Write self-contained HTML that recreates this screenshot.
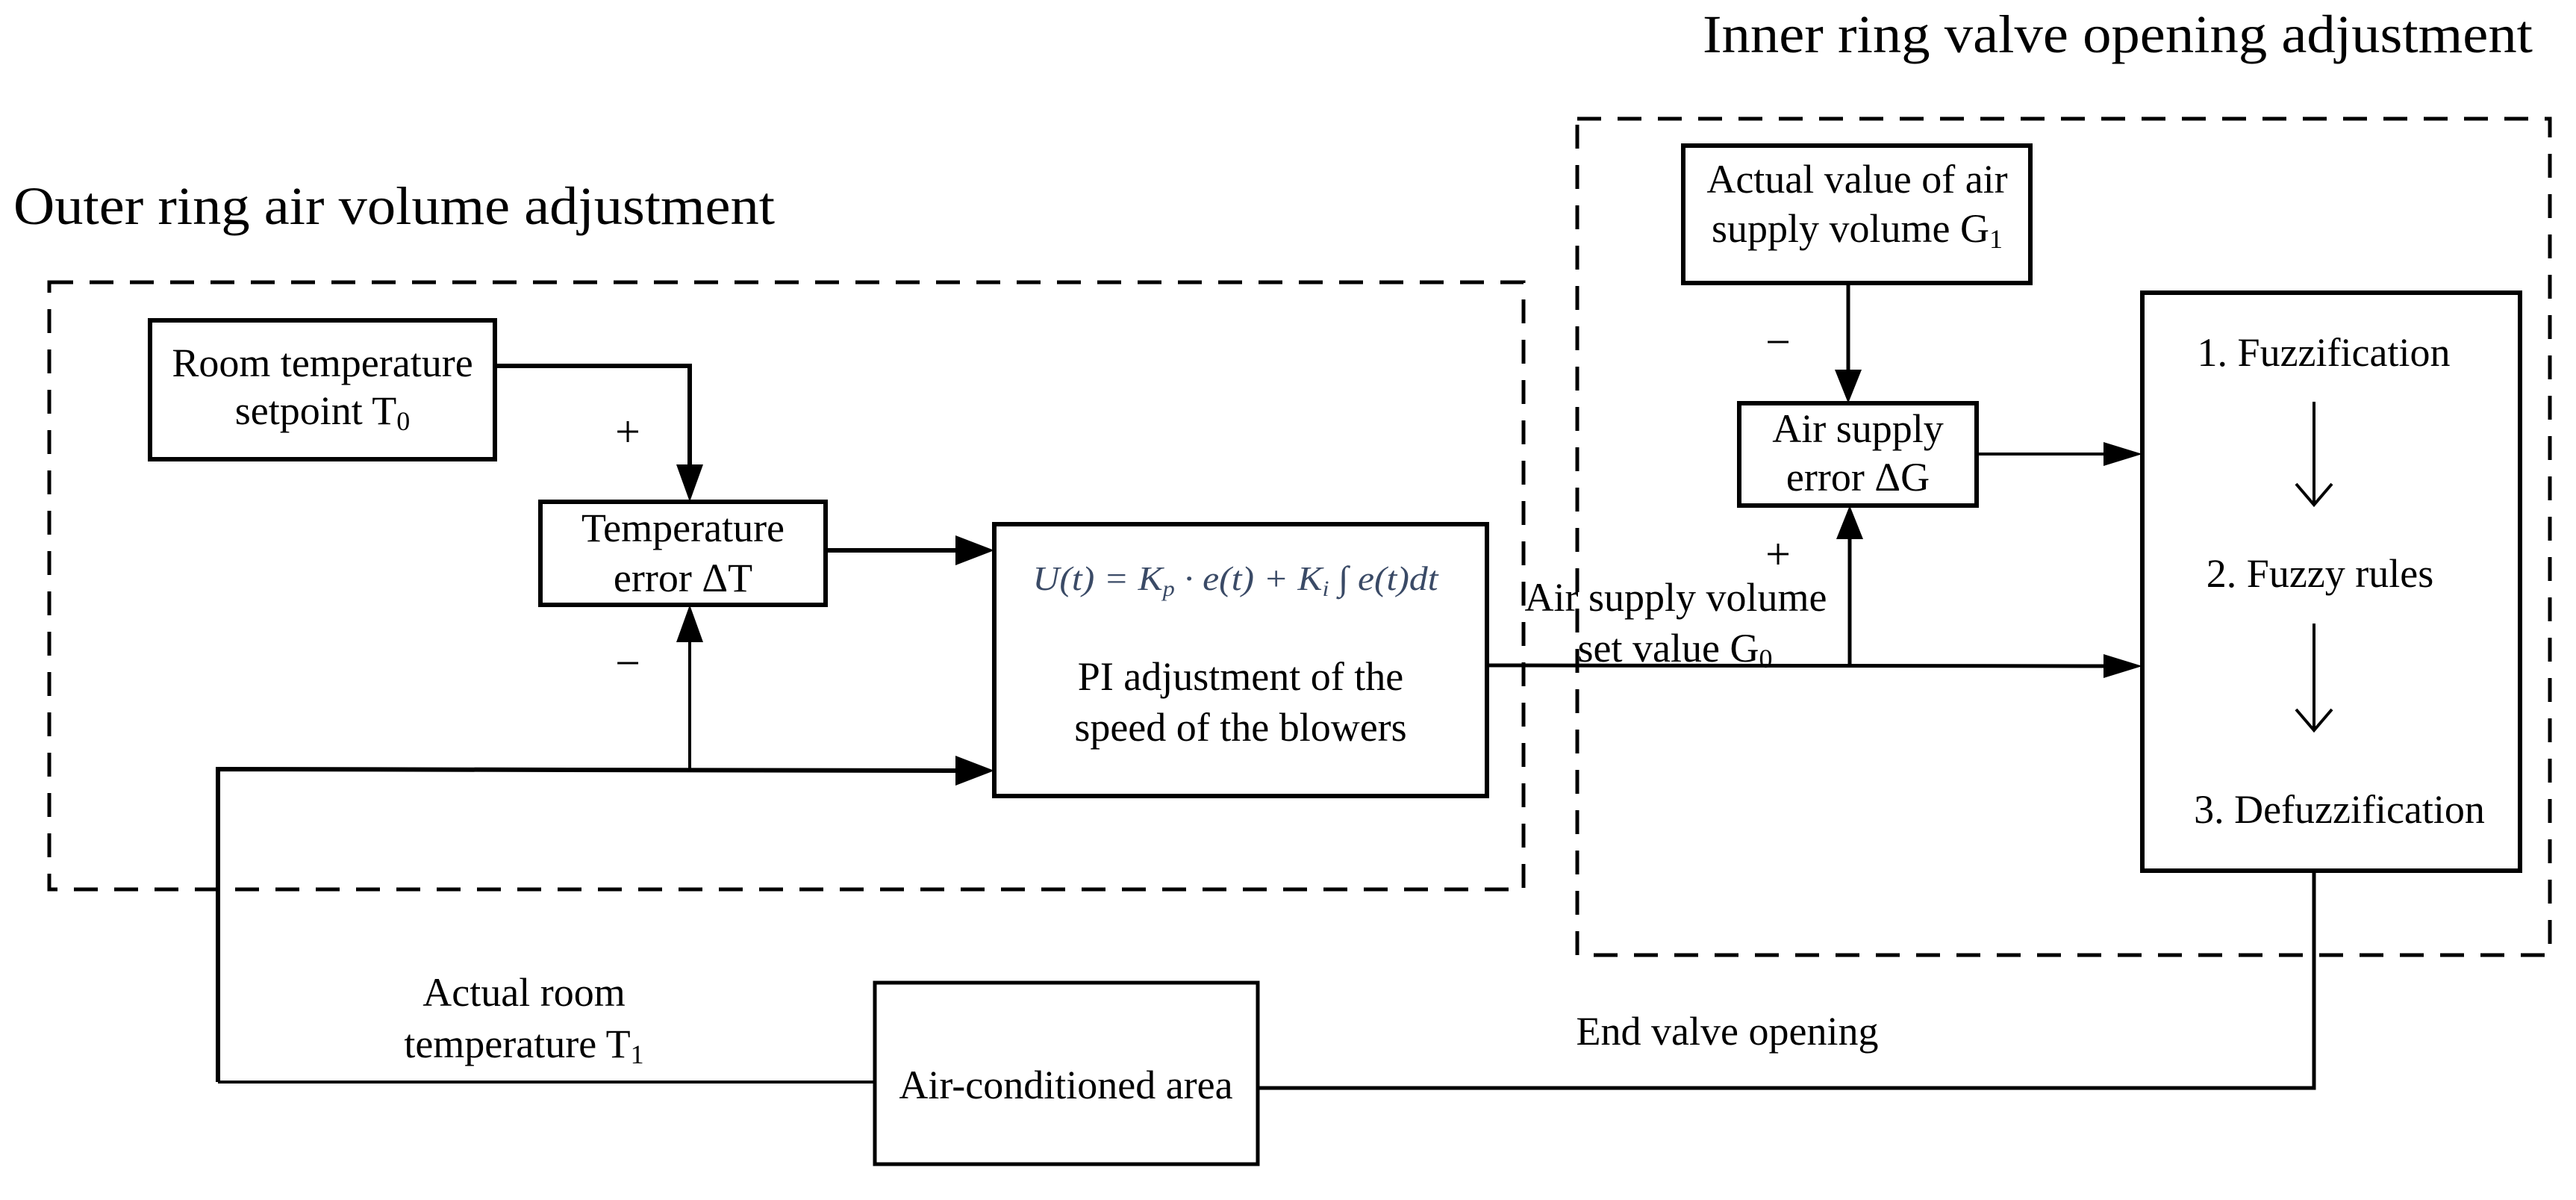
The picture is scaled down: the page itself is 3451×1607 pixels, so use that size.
<!DOCTYPE html>
<html><head><meta charset="utf-8"><style>
html,body{margin:0;padding:0;background:#fff;}
svg{display:block;}
text{font-family:"Liberation Serif",serif;fill:#000;}
</style></head><body>
<svg width="3451" height="1607" viewBox="0 0 3451 1607" xmlns="http://www.w3.org/2000/svg">
<g fill="none" stroke="#000" stroke-width="5">
<rect x="66" y="378" width="1975" height="813" stroke-dasharray="32,22"/>
<rect x="2113" y="159" width="1303" height="1120" stroke-dasharray="32,22"/>
<rect x="201" y="429" width="462" height="186" stroke-width="6"/>
<rect x="724" y="672" width="382" height="138" stroke-width="6"/>
<rect x="1332" y="702" width="660" height="364" stroke-width="6"/>
<rect x="1172" y="1316" width="513" height="243"/>
<rect x="2255" y="195" width="465" height="184" stroke-width="6"/>
<rect x="2330" y="540" width="318" height="137" stroke-width="6"/>
<rect x="2870" y="392" width="506" height="774" stroke-width="6"/>
<polyline points="663,490 924,490 924,630" stroke-width="6"/>
<line x1="924" y1="1030" x2="924" y2="845" stroke-width="4"/>
<line x1="1106" y1="737" x2="1290" y2="737" stroke-width="6"/>
<polyline points="292,1449 292,1030 1292,1032" stroke-width="6"/>
<line x1="292" y1="1449" x2="1172" y2="1449" stroke-width="4"/>
<polyline points="1685,1457 3100,1457 3100,1166" stroke-width="5"/>
<line x1="1992" y1="891" x2="2828" y2="892" stroke-width="5"/>
<line x1="2476" y1="379" x2="2476" y2="505" stroke-width="5"/>
<line x1="2478" y1="890" x2="2478" y2="715" stroke-width="5"/>
<line x1="2648" y1="608" x2="2828" y2="608" stroke-width="4"/>
<g stroke-width="4">
<line x1="3100" y1="538" x2="3100" y2="676"/><polyline points="3076,648 3100,676 3124,648"/>
<line x1="3100" y1="835" x2="3100" y2="978"/><polyline points="3076,950 3100,978 3124,950"/>
</g>
</g>
<g fill="#000">
<polygon points="906,622 942,622 924,672"/>
<polygon points="906,860 942,860 924,810"/>
<polygon points="1280,717 1280,757 1332,737"/>
<polygon points="1280,1012 1280,1052 1332,1032"/>
<polygon points="2458,495 2494,495 2476,540"/>
<polygon points="2460,722 2496,722 2478,677"/>
<polygon points="2818,592 2818,624 2870,608"/>
<polygon points="2818,876 2818,908 2870,892"/>
</g>
<g font-size="54" text-anchor="middle">
<text x="18" y="300" text-anchor="start" font-size="72" textLength="1020" lengthAdjust="spacingAndGlyphs">Outer ring air volume adjustment</text>
<text x="2281" y="70" text-anchor="start" font-size="72" textLength="1112" lengthAdjust="spacingAndGlyphs">Inner ring valve opening adjustment</text>
<text x="432" y="504">Room temperature</text>
<text x="432" y="568">setpoint T<tspan font-size="36" dy="8">0</tspan></text>
<text x="841" y="598" font-size="60">+</text>
<text x="841" y="908" font-size="60">−</text>
<text x="915" y="725">Temperature</text>
<text x="915" y="792">error ΔT</text>
<text x="1655" y="790" font-style="italic" font-size="46" style="fill:#3a4a66" textLength="543" lengthAdjust="spacingAndGlyphs">U(t) = K<tspan font-size="30" dy="8">p</tspan><tspan dy="-8"> · e(t) + K</tspan><tspan font-size="30" dy="8">i</tspan><tspan dy="-8"> ∫ e(t)dt</tspan></text>
<text x="1662" y="924">PI adjustment of the</text>
<text x="1662" y="992">speed of the blowers</text>
<text x="702" y="1347">Actual room</text>
<text x="702" y="1416">temperature T<tspan font-size="36" dy="8">1</tspan></text>
<text x="1428" y="1471">Air-conditioned area</text>
<text x="2314" y="1399">End valve opening</text>
<text x="2488" y="258">Actual value of air</text>
<text x="2488" y="324">supply volume G<tspan font-size="36" dy="8">1</tspan></text>
<text x="2382" y="478" font-size="60">−</text>
<text x="2382" y="762" font-size="60">+</text>
<text x="2489" y="592">Air supply</text>
<text x="2489" y="657">error ΔG</text>
<text x="2245" y="818">Air supply volume</text>
<text x="2244" y="886">set value G<tspan font-size="36" dy="8">0</tspan></text>
<text x="3113" y="490">1. Fuzzification</text>
<text x="3108" y="786">2. Fuzzy rules</text>
<text x="3134" y="1102">3. Defuzzification</text>
</g>
</svg>
</body></html>
